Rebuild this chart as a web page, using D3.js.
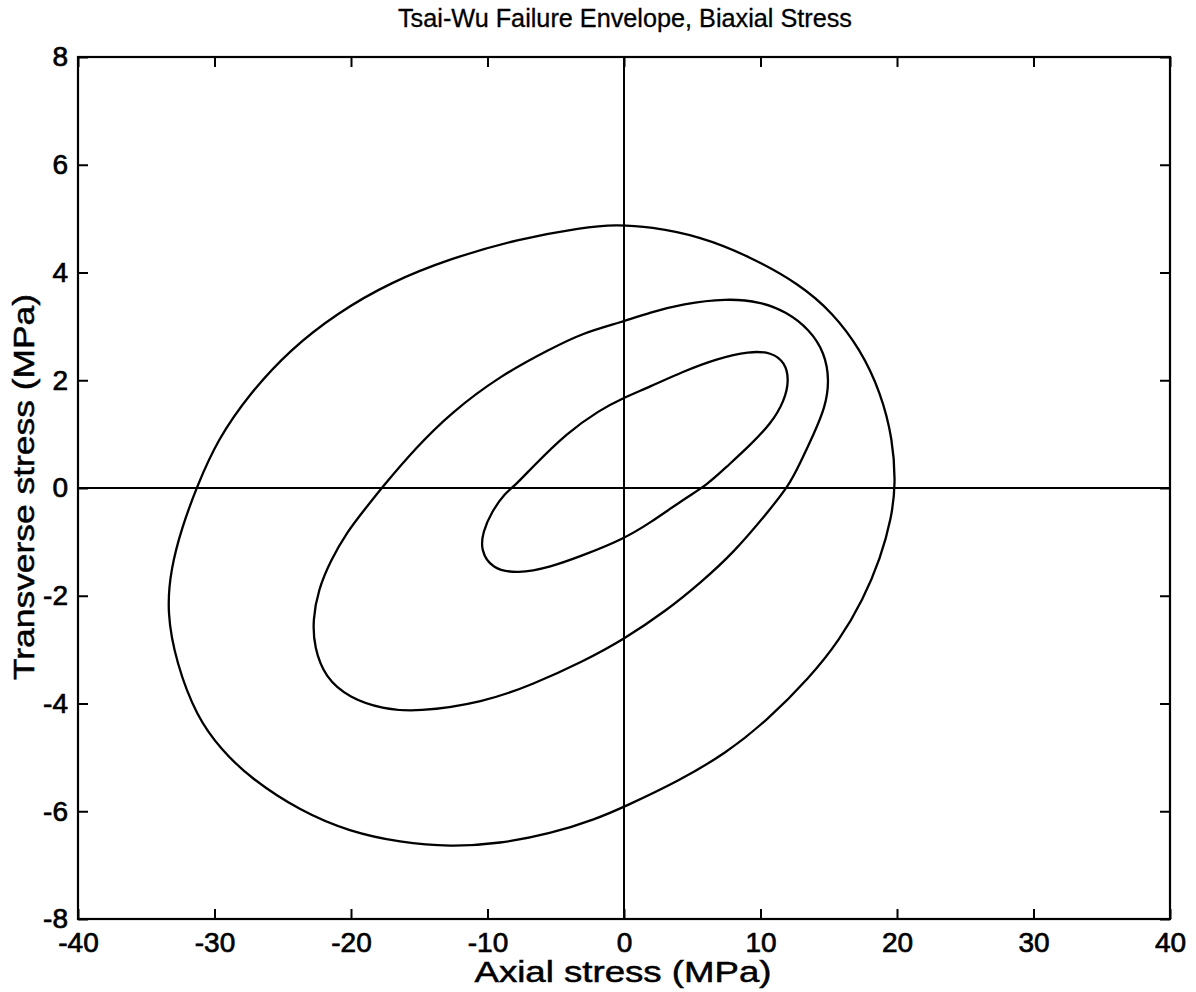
<!DOCTYPE html>
<html>
<head>
<meta charset="utf-8">
<script src="https://cdn.jsdelivr.net/npm/d3@7"></script>
<style>
  html, body { margin: 0; padding: 0; background: #fff; }
  svg { display: block; }
  text { font-family: "Liberation Sans", Arial, Helvetica, sans-serif; fill: #000; }
</style>
</head>
<body>
<svg id="chart" width="1196" height="992"></svg>
<script>
// ---- data ----
const chartTitle = "Tsai-Wu Failure Envelope, Biaxial Stress";
const xLabel = "Axial stress (MPa)";
const yLabel = "Transverse stress (MPa)";
const xTicks = [-40, -30, -20, -10, 0, 10, 20, 30, 40];
const yTicks = [-8, -6, -4, -2, 0, 2, 4, 6, 8];

// outer envelope [axial, transverse]
const outerCurve = [
  [-3.0, 4.84], [-0.6, 4.89], [1.9, 4.85], [5.6, 4.67], [9.2, 4.30], [12.9, 3.78],
  [15.3, 3.25], [17.3, 2.58], [18.8, 1.78], [19.7, 0.90], [19.9, 0.05], [19.6, -0.55],
  [18.8, -1.30], [17.5, -2.08], [15.8, -2.82], [13.6, -3.52], [10.5, -4.31], [7.5, -4.92],
  [4.0, -5.44], [0.0, -5.92], [-2.0, -6.14], [-5.4, -6.42], [-9.1, -6.60], [-12.7, -6.66],
  [-16.4, -6.58], [-20.1, -6.38], [-23.7, -6.00], [-27.4, -5.38], [-29.5, -4.86],
  [-31.3, -4.25], [-32.8, -3.25], [-33.5, -2.30], [-33.2, -1.50], [-32.4, -0.74],
  [-31.3, 0.02], [-29.8, 0.89], [-27.4, 1.76], [-24.5, 2.56], [-21.0, 3.25],
  [-17.1, 3.82], [-12.7, 4.26], [-7.8, 4.62]
];

// middle envelope
const middleCurve = [
  [-0.15, 3.08], [1.9, 3.26], [4.3, 3.42], [7.5, 3.52], [10.0, 3.46], [11.9, 3.27],
  [13.6, 2.94], [14.7, 2.51], [15.05, 2.00], [14.75, 1.50], [13.9, 1.00], [12.9, 0.46],
  [12.1, 0.05], [10.5, -0.46], [8.0, -1.21], [5.6, -1.76], [3.2, -2.26], [-0.07, -2.82],
  [-3.0, -3.22], [-6.7, -3.65], [-10.3, -3.98], [-15.2, -4.16], [-17.7, -4.10],
  [-20.1, -3.90], [-21.9, -3.52], [-22.7, -2.95], [-22.8, -2.45], [-22.4, -1.89],
  [-21.5, -1.35], [-20.3, -0.82], [-19.0, -0.40], [-17.7, 0.02], [-15.2, 0.76],
  [-12.7, 1.39], [-9.1, 2.08], [-5.4, 2.58], [-3.0, 2.88]
];

// inner envelope
const innerCurve = [
  [-0.15, 1.66], [1.9, 1.88], [4.3, 2.16], [6.8, 2.40], [9.2, 2.54], [10.8, 2.52],
  [11.8, 2.33], [12.1, 2.00], [11.75, 1.62], [10.8, 1.20], [9.1, 0.76], [7.5, 0.39],
  [6.1, 0.06], [4.3, -0.22], [1.9, -0.65], [-0.07, -0.95], [-3.0, -1.25], [-5.4, -1.47],
  [-7.8, -1.59], [-9.7, -1.50], [-10.5, -1.15], [-10.35, -0.82], [-9.7, -0.44],
  [-8.7, -0.09], [-8.0, 0.04], [-6.7, 0.39], [-4.2, 1.02], [-1.76, 1.45]
];

const curves = [outerCurve, middleCurve, innerCurve];

// ---- drawing ----
const svg = d3.select("#chart");
const mLeft = 78, mRight = 1170, mTop = 57, mBottom = 919;

const x = d3.scaleLinear().domain([-40, 40]).range([mLeft, mRight]);
const y = d3.scaleLinear().domain([-8, 8]).range([mBottom, mTop]);

const tickLen = 10;
const fs = 28;
const fmt = d => String(d); // plain hyphen-minus like the reference

const gB = svg.append("g").attr("transform", `translate(0,${mBottom})`)
  .call(d3.axisBottom(x).tickValues(xTicks).tickFormat(fmt)
    .tickSizeInner(-tickLen).tickSizeOuter(0).tickPadding(13));
const gT = svg.append("g").attr("transform", `translate(0,${mTop})`)
  .call(d3.axisTop(x).tickValues(xTicks).tickFormat("")
    .tickSizeInner(-tickLen).tickSizeOuter(0));
const gL = svg.append("g").attr("transform", `translate(${mLeft},0)`)
  .call(d3.axisLeft(y).tickValues(yTicks).tickFormat(fmt)
    .tickSizeInner(-tickLen).tickSizeOuter(0).tickPadding(10));
const gR = svg.append("g").attr("transform", `translate(${mRight},0)`)
  .call(d3.axisRight(y).tickValues(yTicks).tickFormat("")
    .tickSizeInner(-tickLen).tickSizeOuter(0));

[gB, gT, gL, gR].forEach(g => {
  g.select(".domain").remove();
  g.selectAll(".tick line").attr("stroke", "#000").attr("stroke-width", 2);
  g.selectAll(".tick text").attr("font-size", fs).attr("fill", "#000")
    .attr("stroke", "#000").attr("stroke-width", 0.7)
    .style("font-family", "'Liberation Sans', Arial, sans-serif");
});

// zero lines
svg.append("line")
  .attr("x1", x(-40)).attr("x2", x(40)).attr("y1", y(0)).attr("y2", y(0))
  .attr("stroke", "#000").attr("stroke-width", 2);
svg.append("line")
  .attr("x1", x(0)).attr("x2", x(0)).attr("y1", y(-8)).attr("y2", y(8))
  .attr("stroke", "#000").attr("stroke-width", 2);

// frame
svg.append("rect")
  .attr("x", mLeft).attr("y", mTop).attr("width", mRight - mLeft).attr("height", mBottom - mTop)
  .attr("fill", "none").attr("stroke", "#000").attr("stroke-width", 2.2);

// curves
const line = d3.line()
  .x(d => x(d[0])).y(d => y(d[1]))
  .curve(d3.curveBasisClosed);

svg.append("g").selectAll("path").data(curves).join("path")
  .attr("d", line)
  .attr("fill", "none").attr("stroke", "#000").attr("stroke-width", 2.3)
  .attr("stroke-linejoin", "round");

// title & labels
svg.append("text").attr("x", 625).attr("y", 27).attr("text-anchor", "middle")
  .attr("font-size", 25).attr("textLength", 454).attr("lengthAdjust", "spacingAndGlyphs")
  .attr("stroke", "#000").attr("stroke-width", 0.3)
  .text(chartTitle);
svg.append("text").attr("x", 623).attr("y", 982).attr("text-anchor", "middle")
  .attr("font-size", 30).attr("textLength", 297).attr("lengthAdjust", "spacingAndGlyphs")
  .attr("stroke", "#000").attr("stroke-width", 0.5)
  .text(xLabel);
svg.append("text").attr("transform", `translate(34,487) rotate(-90)`)
  .attr("text-anchor", "middle").attr("font-size", 30)
  .attr("textLength", 386).attr("lengthAdjust", "spacingAndGlyphs")
  .attr("stroke", "#000").attr("stroke-width", 0.5)
  .text(yLabel);
</script>
</body>
</html>
